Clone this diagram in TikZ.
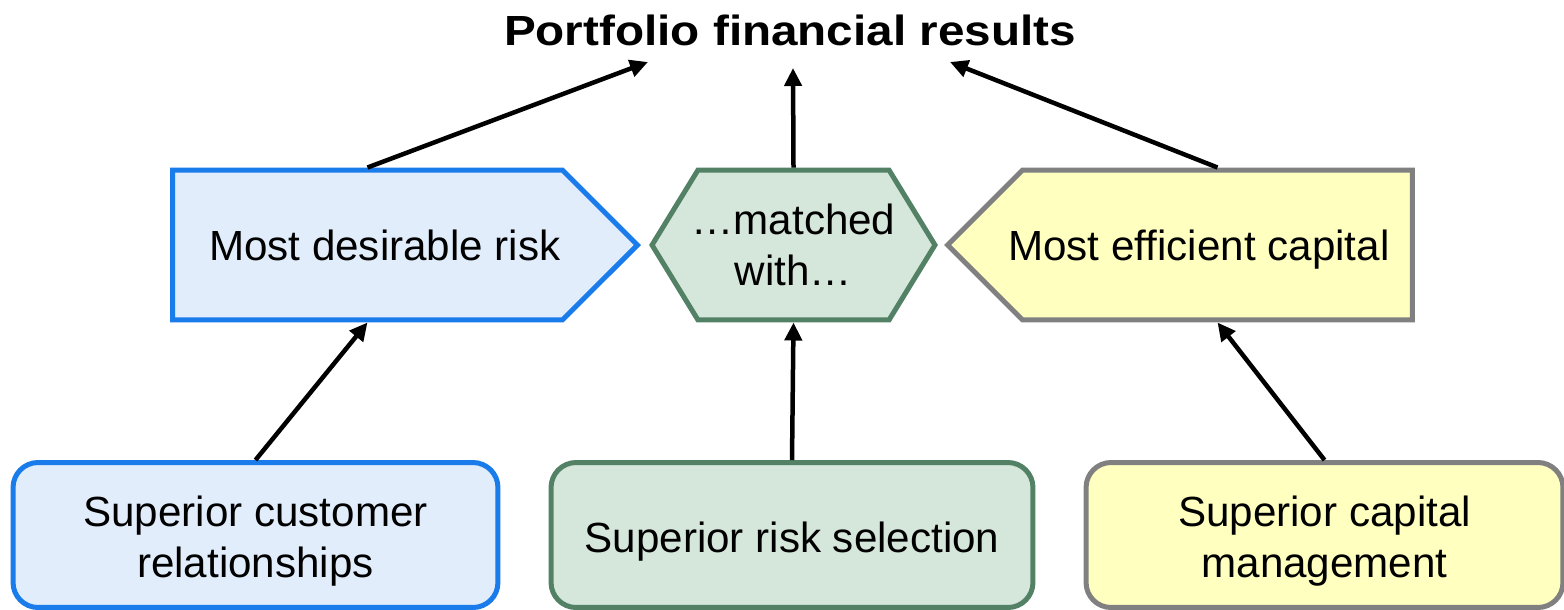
\documentclass[tikz,border=0pt]{standalone}
\usepackage{fontspec}
\setmainfont{Liberation Sans}
\newfontfamily\titlefont[FakeStretch=1.13]{Liberation Sans Bold}
\usetikzlibrary{shapes.symbols,arrows.meta,positioning}

\definecolor{riskblue}{HTML}{1A7BEA}
\definecolor{riskfill}{HTML}{E1EDFB}
\definecolor{selgreen}{HTML}{538165}
\definecolor{selfill}{HTML}{D5E6DB}
\definecolor{capgray}{HTML}{808080}
\definecolor{capfill}{HTML}{FFFFC0}

% lowered, centred lines for the bottom boxes
\newcommand{\lowtext}[1]{\raisebox{-0.14cm}[\height][\depth]{\begin{tabular}{@{}c@{}}#1\end{tabular}}}

\tikzset{
  boxtext/.style={font=\fontsize{24}{28.8}\selectfont, inner sep=0pt},
  pointy/.style={boxtext, shape=signal, line width=0.1cm, minimum height=3cm},
  oneline/.style={text height=17.5pt, text depth=0pt},
  basebox/.style={boxtext, draw, rounded corners=0.5cm, line width=0.1cm, minimum height=2.9cm},
  link/.style={line width=0.09cm, -{Triangle[length=0.36cm,width=0.34cm]}}
}

\begin{document}
\begin{tikzpicture}[x=0.02cm,y=-0.02cm]
  \useasboundingbox (0,0) rectangle (1564,609);

  % title
  \node[font=\titlefont\fontsize{24}{28.8}\selectfont, inner sep=0pt] (title) at (790,30) {Portfolio financial results};
  \coordinate (tipL) at (648,62);
  \coordinate (tipM) at (793,68);
  \coordinate (tipR) at (950,62);

  % middle row
  \node[pointy, oneline, draw=riskblue, fill=riskfill, signal to=east, signal pointer angle=90, minimum width=9.3cm] (risk) at (367.5,245) {\makebox[6.34cm][l]{Most desirable risk}};
  \node[pointy, align=center, inner xsep=-0.14cm, draw=selgreen, fill=selfill, signal to=east and west, signal pointer angle=117, minimum width=5.66cm] (match) at (793.5,245) {\ldots matched\\with\ldots};
  \node[pointy, oneline, draw=capgray, fill=capfill, signal to=west, signal pointer angle=90, minimum width=9.3cm] (capital) at (1217.5,245) {\makebox[6.88cm][r]{Most efficient capital}};

  % bottom row
  \node[basebox, draw=riskblue, fill=riskfill, minimum width=9.7cm] (cust) at (255.5,535) {\lowtext{Superior customer\\relationships}};
  \node[basebox, draw=selgreen, fill=selfill, minimum width=9.64cm] (sel) at (792,535) {\lowtext{Superior risk selection}};
  \node[basebox, draw=capgray, fill=capfill, minimum width=9.54cm] (mgmt) at (1324.5,535) {\lowtext{Superior capital\\management}};

  % arrows
  \draw[link] (cust.north) -- (risk.south);
  \draw[link] (sel.north) -- (match.south);
  \draw[link] (mgmt.north) -- (capital.south);
  \draw[link] (risk.north) -- (tipL);
  \draw[link] (match.north) -- (tipM);
  \draw[link] (capital.north) -- (tipR);
\end{tikzpicture}
\end{document}
